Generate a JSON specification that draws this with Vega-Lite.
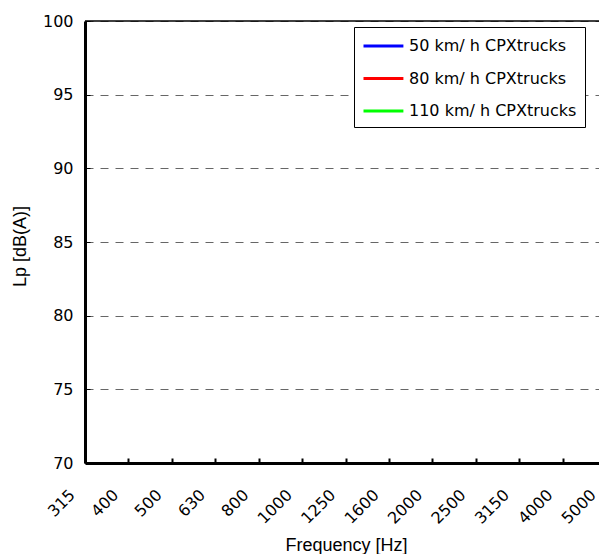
{
  "$schema": "https://vega.github.io/schema/vega-lite/v6.json",
  "width": 514,
  "height": 442,
  "autosize": "none",
  "padding": {"left": 85, "top": 21, "right": 0, "bottom": 91},
  "background": "white",
  "config": {"view": {"stroke": null}, "font": "Liberation Sans"},
  "data": {
    "values": [
      {"Frequency": "315", "Series": "50 km/ h CPXtrucks", "Lp": null},
      {"Frequency": "400", "Series": "50 km/ h CPXtrucks", "Lp": null},
      {"Frequency": "500", "Series": "50 km/ h CPXtrucks", "Lp": null},
      {"Frequency": "630", "Series": "50 km/ h CPXtrucks", "Lp": null},
      {"Frequency": "800", "Series": "50 km/ h CPXtrucks", "Lp": null},
      {"Frequency": "1000", "Series": "50 km/ h CPXtrucks", "Lp": null},
      {"Frequency": "1250", "Series": "50 km/ h CPXtrucks", "Lp": null},
      {"Frequency": "1600", "Series": "50 km/ h CPXtrucks", "Lp": null},
      {"Frequency": "2000", "Series": "50 km/ h CPXtrucks", "Lp": null},
      {"Frequency": "2500", "Series": "50 km/ h CPXtrucks", "Lp": null},
      {"Frequency": "3150", "Series": "50 km/ h CPXtrucks", "Lp": null},
      {"Frequency": "4000", "Series": "50 km/ h CPXtrucks", "Lp": null},
      {"Frequency": "5000", "Series": "50 km/ h CPXtrucks", "Lp": null},
      {"Frequency": "315", "Series": "80 km/ h CPXtrucks", "Lp": null},
      {"Frequency": "400", "Series": "80 km/ h CPXtrucks", "Lp": null},
      {"Frequency": "500", "Series": "80 km/ h CPXtrucks", "Lp": null},
      {"Frequency": "630", "Series": "80 km/ h CPXtrucks", "Lp": null},
      {"Frequency": "800", "Series": "80 km/ h CPXtrucks", "Lp": null},
      {"Frequency": "1000", "Series": "80 km/ h CPXtrucks", "Lp": null},
      {"Frequency": "1250", "Series": "80 km/ h CPXtrucks", "Lp": null},
      {"Frequency": "1600", "Series": "80 km/ h CPXtrucks", "Lp": null},
      {"Frequency": "2000", "Series": "80 km/ h CPXtrucks", "Lp": null},
      {"Frequency": "2500", "Series": "80 km/ h CPXtrucks", "Lp": null},
      {"Frequency": "3150", "Series": "80 km/ h CPXtrucks", "Lp": null},
      {"Frequency": "4000", "Series": "80 km/ h CPXtrucks", "Lp": null},
      {"Frequency": "5000", "Series": "80 km/ h CPXtrucks", "Lp": null},
      {"Frequency": "315", "Series": "110 km/ h CPXtrucks", "Lp": null},
      {"Frequency": "400", "Series": "110 km/ h CPXtrucks", "Lp": null},
      {"Frequency": "500", "Series": "110 km/ h CPXtrucks", "Lp": null},
      {"Frequency": "630", "Series": "110 km/ h CPXtrucks", "Lp": null},
      {"Frequency": "800", "Series": "110 km/ h CPXtrucks", "Lp": null},
      {"Frequency": "1000", "Series": "110 km/ h CPXtrucks", "Lp": null},
      {"Frequency": "1250", "Series": "110 km/ h CPXtrucks", "Lp": null},
      {"Frequency": "1600", "Series": "110 km/ h CPXtrucks", "Lp": null},
      {"Frequency": "2000", "Series": "110 km/ h CPXtrucks", "Lp": null},
      {"Frequency": "2500", "Series": "110 km/ h CPXtrucks", "Lp": null},
      {"Frequency": "3150", "Series": "110 km/ h CPXtrucks", "Lp": null},
      {"Frequency": "4000", "Series": "110 km/ h CPXtrucks", "Lp": null},
      {"Frequency": "5000", "Series": "110 km/ h CPXtrucks", "Lp": null}
    ]
  },
  "layer": [
    {
      "mark": {"type": "line", "strokeWidth": 3},
      "encoding": {
        "x": {
          "field": "Frequency",
          "type": "ordinal",
          "scale": {
            "type": "point",
            "domain": ["315", "400", "500", "630", "800", "1000", "1250", "1600", "2000", "2500", "3150", "4000", "5000"],
            "range": [0, 521],
            "padding": 0
          },
          "axis": {
            "title": "Frequency [Hz]",
            "titleFont": "Liberation Sans",
            "titleFontSize": 18,
            "titleFontWeight": "normal",
            "titleColor": "black",
            "titleX": 261,
            "titleY": 82,
            "titleAlign": "center",
            "titleBaseline": "middle",
            "domainColor": "black",
            "domainWidth": 3,
            "tickColor": "black",
            "tickWidth": 2,
            "tickSize": -5,
            "labelAngle": -45,
            "labelAlign": "right",
            "labelBaseline": "middle",
            "labelFont": "DejaVu Sans",
            "labelFontSize": 16,
            "labelColor": "black",
            "labelPadding": 34,
            "labelOffset": -13,
            "labelOverlap": false,
            "labelBound": false,
            "labelFlush": false,
            "grid": false
          }
        },
        "y": {
          "field": "Lp",
          "type": "quantitative",
          "scale": {"domain": [70, 100], "nice": false, "zero": false},
          "axis": {
            "title": "Lp [dB(A)]",
            "titleFont": "Liberation Sans",
            "titleFontSize": 18,
            "titleFontWeight": "normal",
            "titleColor": "black",
            "titleX": -65,
            "titleY": 225,
            "titleAngle": -90,
            "titleAlign": "center",
            "titleBaseline": "middle",
            "values": [70, 75, 80, 85, 90, 95, 100],
            "domainColor": "black",
            "domainWidth": 3,
            "tickColor": "black",
            "tickWidth": 1,
            "tickSize": -5,
            "labelFont": "DejaVu Sans",
            "labelFontSize": 16,
            "labelColor": "black",
            "labelPadding": 17,
            "grid": true,
            "gridColor": "#666666",
            "gridDash": [8, 7],
            "gridWidth": 1
          }
        },
        "color": {
          "field": "Series",
          "type": "nominal",
          "scale": {
            "domain": ["50 km/ h CPXtrucks", "80 km/ h CPXtrucks", "110 km/ h CPXtrucks"],
            "range": ["#0000FF", "#FF0000", "#00FF00"]
          },
          "legend": {
            "title": null,
            "orient": "none",
            "legendX": 269,
            "legendY": 6,
            "direction": "vertical",
            "fillColor": "white",
            "strokeColor": "black",
            "padding": 8,
            "symbolType": "M-1,0H3.2",
            "symbolSize": 361,
            "symbolStrokeWidth": 3,
            "rowPadding": 13.5,
            "labelOffset": 25,
            "labelFont": "DejaVu Sans",
            "labelFontSize": 16,
            "labelColor": "black",
            "labelLimit": 0
          }
        }
      }
    },
    {
      "data": {"values": [{}]},
      "mark": {"type": "rule", "color": "black", "strokeWidth": 1.5},
      "encoding": {"y": {"datum": 100}}
    }
  ]
}
